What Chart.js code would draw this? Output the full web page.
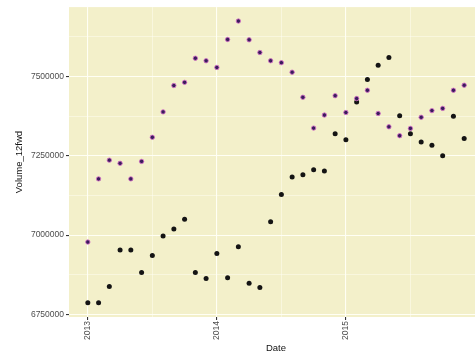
<!DOCTYPE html>
<html>
<head>
<meta charset="utf-8">
<script src="https://cdn.jsdelivr.net/npm/chart.js@4/dist/chart.umd.min.js"></script>
<style>
  html, body { margin: 0; padding: 0; background: #fff; overflow: hidden; }
  #chart { position: absolute; left: 0; top: 0; }
</style>
</head>
<body>
<canvas id="chart" width="488" height="358"></canvas>
<script>
// months Jan 2013 .. Dec 2015 (x = month index from Jan 2013)
const months = [
  "2013-01", "2013-02", "2013-03", "2013-04", "2013-05", "2013-06",
  "2013-07", "2013-08", "2013-09", "2013-10", "2013-11", "2013-12",
  "2014-01", "2014-02", "2014-03", "2014-04", "2014-05", "2014-06",
  "2014-07", "2014-08", "2014-09", "2014-10", "2014-11", "2014-12",
  "2015-01", "2015-02", "2015-03", "2015-04", "2015-05", "2015-06",
  "2015-07", "2015-08", "2015-09", "2015-10", "2015-11", "2015-12"
];

const purpleValues = [
  6978000, 7177000, 7236000, 7226000, 7177000, 7232000,
  7308000, 7388000, 7471000, 7481000, 7557000, 7549000,
  7528000, 7616000, 7674000, 7615000, 7575000, 7549000,
  7543000, 7513000, 7434000, 7337000, 7378000, 7439000,
  7386000, 7430000, 7456000, 7383000, 7341000, 7313000,
  7336000, 7371000, 7392000, 7399000, 7456000, 7472000
];

const blackValues = [
  6787000, 6787000, 6838000, 6953000, 6953000, 6882000,
  6936000, 6997000, 7019000, 7050000, 6882000, 6863000,
  6942000, 6866000, 6963000, 6848000, 6835000, 7042000,
  7128000, 7183000, 7190000, 7206000, 7202000, 7319000,
  7300000, 7419000, 7490000, 7535000, 7559000, 7376000,
  7319000, 7293000, 7283000, 7250000, 7374000, 7304000
];

const yTicks = [6750000, 7000000, 7250000, 7500000];
const yMinorTicks = [6875000, 7125000, 7375000, 7625000];
const xTickYears = ["2013", "2014", "2015"];

const yMajor = new Set(yTicks);

function points(values) {
  return values.map(function (v, i) { return { x: i, y: v }; });
}

const panelBg = {
  id: "panelBg",
  beforeDraw: function (chart) {
    const a = chart.chartArea;
    const ctx = chart.ctx;
    ctx.save();
    ctx.fillStyle = "#f3f0ca";
    ctx.fillRect(a.left, a.top, a.right - a.left, a.bottom - a.top);
    ctx.restore();
  }
};

const tickFont = { family: "Liberation Sans, Arial, sans-serif", size: 8.5 };
const titleFont = { family: "Liberation Sans, Arial, sans-serif", size: 9.5 };

new Chart(document.getElementById("chart"), {
  type: "scatter",
  data: {
    datasets: [
      {
        label: "forecast",
        data: points(purpleValues),
        backgroundColor: "#3a1c5c",
        borderColor: "rgba(214, 112, 200, 0.85)",
        borderWidth: 1,
        pointRadius: 2.2
      },
      {
        label: "actual",
        data: points(blackValues),
        backgroundColor: "#141414",
        borderColor: "#141414",
        borderWidth: 0,
        pointRadius: 2.5
      }
    ]
  },
  plugins: [panelBg],
  options: {
    responsive: false,
    animation: false,
    layout: { padding: { left: 0, right: 0, top: 6, bottom: 0 } },
    plugins: {
      legend: { display: false },
      tooltip: { enabled: false }
    },
    scales: {
      x: {
        type: "linear",
        min: -1.75,
        max: 36.75,
        border: { display: false },
        afterBuildTicks: function (scale) {
          scale.ticks = [0, 6, 12, 18, 24, 30].map(function (v) { return { value: v }; });
        },
        afterFit: function (scale) { scale.height = 41; },
        grid: {
          color: "rgba(255, 255, 245, 0.95)",
          lineWidth: function (c) { return c.tick && c.tick.value % 12 === 0 ? 1.1 : 0.5; },
          tickColor: function (c) { return c.tick && c.tick.value % 12 === 0 ? "#333333" : "rgba(0,0,0,0)"; },
          tickLength: 3
        },
        ticks: {
          autoSkip: false,
          minRotation: 90,
          maxRotation: 90,
          padding: 1,
          color: "#4d4d4d",
          font: tickFont,
          callback: function (v) {
            return v % 12 === 0 ? xTickYears[v / 12] : "";
          }
        },
        title: {
          display: true,
          text: "Date",
          color: "#111111",
          font: titleFont,
          padding: { top: 0, bottom: 4 }
        }
      },
      y: {
        min: 6742000,
        max: 7718000,
        border: { display: false },
        afterBuildTicks: function (scale) {
          scale.ticks = yTicks.concat(yMinorTicks).sort().map(function (v) { return { value: v }; });
        },
        afterFit: function (scale) { scale.width = 69; },
        grid: {
          color: "rgba(255, 255, 245, 0.95)",
          lineWidth: function (c) { return c.tick && yMajor.has(c.tick.value) ? 1.1 : 0.5; },
          tickColor: function (c) { return c.tick && yMajor.has(c.tick.value) ? "#333333" : "rgba(0,0,0,0)"; },
          tickLength: 3
        },
        ticks: {
          autoSkip: false,
          padding: 2,
          color: "#4d4d4d",
          font: tickFont,
          callback: function (v) {
            return yMajor.has(v) ? String(v) : "";
          }
        },
        title: {
          display: true,
          text: "Volume_12fwd",
          color: "#111111",
          font: titleFont,
          padding: { top: 14, bottom: 0 }
        }
      }
    }
  }
});
</script>
</body>
</html>
